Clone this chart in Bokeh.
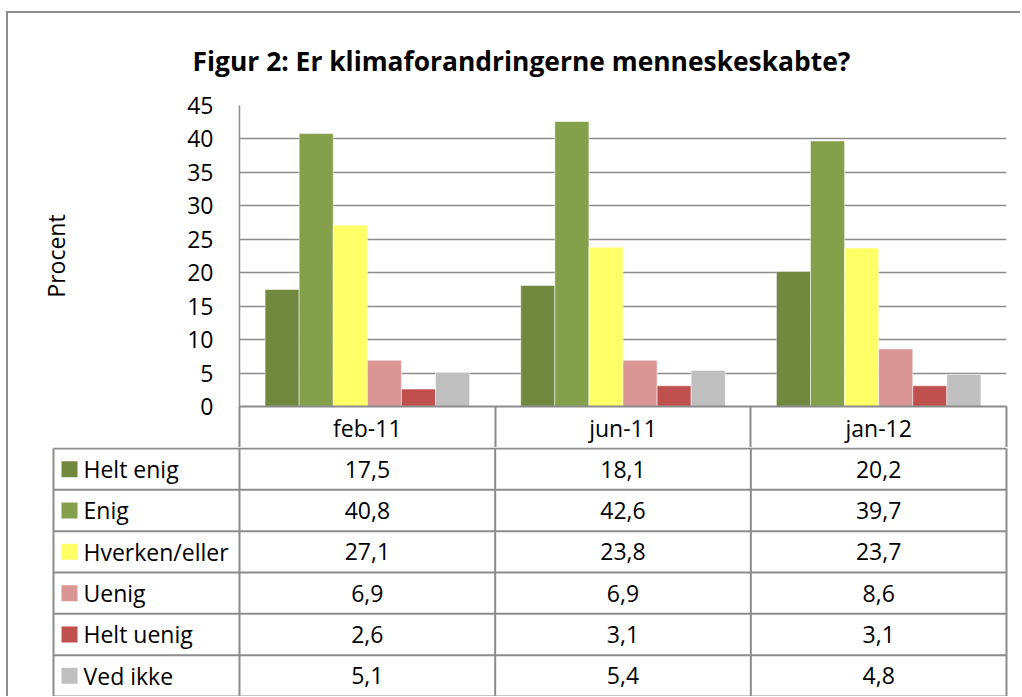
from bokeh.plotting import figure
from bokeh.layouts import column, row
from bokeh.models import Range1d, FixedTicker, ColumnDataSource, LinearAxis
from bokeh.core.properties import value
from bokeh.embed import file_html
from bokeh.resources import INLINE

# ---- data ----
categories = ["feb-11", "jun-11", "jan-12"]
series_names = ["Helt enig", "Enig", "Hverken/eller", "Uenig", "Helt uenig", "Ved ikke"]
helt_enig = [17.5, 18.1, 20.2]
enig = [40.8, 42.6, 39.7]
hverken_eller = [27.1, 23.8, 23.7]
uenig = [6.9, 6.9, 8.6]
helt_uenig = [2.6, 3.1, 3.1]
ved_ikke = [5.1, 5.4, 4.8]
y_ticks = [0, 5, 10, 15, 20, 25, 30, 35, 40, 45]
title_text = "Figur 2: Er klimaforandringerne menneskeskabte?"
y_label = "Procent"

series_values = [helt_enig, enig, hverken_eller, uenig, helt_uenig, ved_ikke]
colors = ["#71893F", "#84A04B", "#FFFF66", "#DA9694", "#C0504D", "#BFBFBF"]

FONT = "Open Sans"
GRID = "#8c8c8c"
FS = "23px"
ncat = len(categories)
cat_pos = [i + 0.5 for i in range(ncat)]  # category centres on the x scale
HDR_H = 41  # height of the table's header row

# ---- chart (with the table's header row as its x axis) ----
p = figure(width=1012, height=434, output_backend="svg", toolbar_location=None,
           x_range=Range1d(0, ncat), y_range=Range1d(0, 45), x_axis_location=None,
           min_border_left=231, min_border_right=14, min_border_top=91,
           min_border_bottom=HDR_H)
p.outline_line_color = None
p.title.text = title_text
p.title.text_font = FONT
p.title.text_font_size = "26.4px"
p.title.text_font_style = "bold"
p.title.text_color = "black"
p.title.align = "left"
p.title.offset = -47
p.title.standoff = 54

nser = len(series_names)
bw = 0.8 / nser
for j, (name, vals, col) in enumerate(zip(series_names, series_values, colors)):
    off = (j - (nser - 1) / 2) * bw
    src = ColumnDataSource(dict(x=[c + off for c in cat_pos], top=vals))
    p.vbar(x="x", top="top", width=bw, source=src, fill_color=col,
           line_color="white", line_alpha=0.5, line_width=1)

p.xgrid.grid_line_color = None
p.ygrid.grid_line_color = GRID
p.ygrid.grid_line_width = 1.5
p.yaxis.ticker = FixedTicker(ticks=y_ticks)
p.yaxis.major_tick_line_color = None
p.yaxis.minor_tick_line_color = None
p.yaxis.major_tick_out = 0
p.yaxis.major_label_standoff = 26
p.yaxis.major_label_text_font = FONT
p.yaxis.major_label_text_font_size = FS
p.yaxis.major_label_text_color = "black"
p.yaxis.axis_line_color = GRID
p.yaxis.axis_line_width = 1.5
p.yaxis.axis_label = y_label
p.yaxis.axis_label_text_font = FONT
p.yaxis.axis_label_text_font_size = FS
p.yaxis.axis_label_text_font_style = "normal"
p.yaxis.axis_label_text_color = "black"
p.yaxis.axis_label_standoff = 112

# header row of the data table: category labels with column separators
hdr = LinearAxis(ticker=FixedTicker(ticks=cat_pos, minor_ticks=list(range(ncat + 1))),
                 major_label_overrides={c: name for c, name in zip(cat_pos, categories)})
hdr.major_tick_line_color = None
hdr.major_tick_out = 0
hdr.major_tick_in = 0
hdr.minor_tick_in = 0
hdr.minor_tick_out = HDR_H
hdr.minor_tick_line_color = GRID
hdr.minor_tick_line_width = 2
hdr.axis_line_color = GRID
hdr.axis_line_width = 2
hdr.major_label_standoff = 5 - HDR_H
hdr.major_label_text_font = FONT
hdr.major_label_text_font_size = FS
hdr.major_label_text_color = "black"
p.add_layout(hdr, "below")

# ---- data table body ----
unit = 767 / 3.0  # px per category column
def px2x(px):
    return (px - 239) / unit

th = 249
rp = 41.33
t = figure(width=1012, height=th, output_backend="svg", toolbar_location=None,
           x_range=Range1d(px2x(8), px2x(1020)),
           y_range=Range1d(nser + (th - 1 - nser * rp) / rp, -1 / rp),
           x_axis_location=None, y_axis_location=None,
           min_border=0, min_border_left=0, min_border_right=0,
           min_border_top=0, min_border_bottom=0)
t.outline_line_color = None
t.xgrid.grid_line_color = None
t.ygrid.grid_line_color = None

leg_left = px2x(53)
hy = list(range(nser + 1))
t.segment(x0=[leg_left] * len(hy), x1=[ncat] * len(hy), y0=hy, y1=hy,
          line_color=GRID, line_width=2)
vx = [leg_left] + list(range(ncat + 1))
t.segment(x0=vx, x1=vx, y0=[0] * len(vx), y1=[nser] * len(vx), line_color=GRID, line_width=2)

for j, (name, vals, col) in enumerate(zip(series_names, series_values, colors)):
    yc = j + 0.5
    t.scatter(x=[px2x(69)], y=[yc], marker="square", size=16, fill_color=col, line_color=None)
    t.text(x=[px2x(83)], y=[yc], text=[name], text_font=value(FONT), text_font_size=FS,
           text_align="left", text_baseline="middle", text_color="black")
    labels = [f"{v:.1f}".replace(".", ",") for v in vals]
    t.text(x=cat_pos, y=[yc] * ncat, text=labels,
           text_font=value(FONT), text_font_size=FS, text_align="center",
           text_baseline="middle", text_color="black")

layout = column(p, row(t), spacing=0,
                styles={"border-top": "2px solid #8c8c8c", "border-left": "2px solid #8c8c8c",
                        "margin-top": "11px", "margin-left": "6px"})

open("out.html", "w").write(file_html(layout, INLINE))
